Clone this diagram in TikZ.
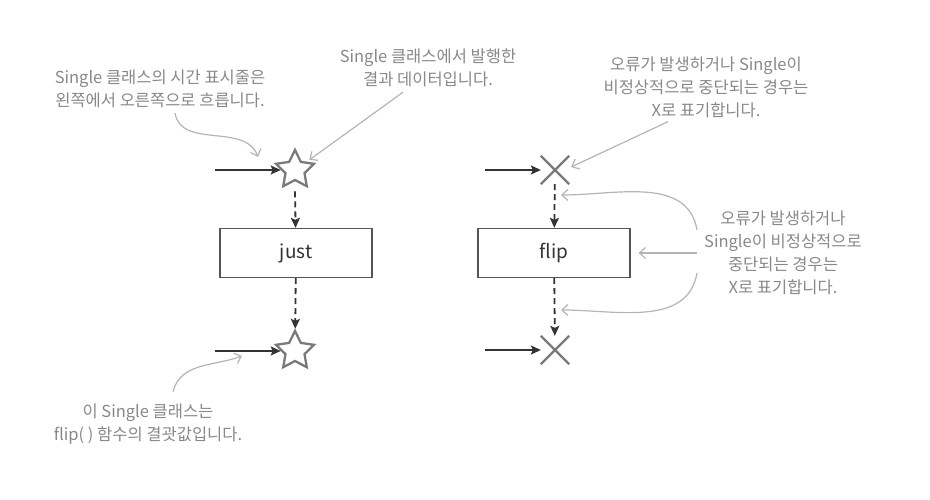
\documentclass[tikz,border=0pt]{standalone}
\usepackage{fontspec}
\setmainfont{Noto Sans CJK KR}
\usetikzlibrary{arrows.meta}
\usetikzlibrary{shapes.geometric, shapes.misc}
\usetikzlibrary{positioning}

\definecolor{darkline}{HTML}{333333}
\definecolor{boxgray}{HTML}{555555}
\definecolor{itemgray}{HTML}{7A7A7A}
\definecolor{notegray}{HTML}{888888}
\definecolor{pointgray}{HTML}{B4B4B4}

\begin{document}
\begin{tikzpicture}[x=1pt, y=-1pt,
    flow/.style={-{Stealth[length=10pt,width=9pt,inset=2pt]}, line width=1.8pt, draw=darkline},
    emit/.style={flow, dash pattern=on 6pt off 4pt},
    note/.style={align=center, text=notegray, font=\fontsize{16.5}{23}\selectfont, inner sep=1pt},
    pointer/.style={-{Straight Barb[length=6pt,width=11pt]}, line width=1.2pt, draw=pointgray},
    item/.style={star, star points=5, star point ratio=2, draw=itemgray, line width=2.3pt, minimum size=40pt, inner sep=0pt},
    fail/.style={cross out, draw=itemgray, line width=2.3pt, minimum size=26pt, inner sep=0pt},
    op/.style={draw=boxgray, line width=1.3pt, minimum width=152pt, minimum height=49pt, font=\fontsize{19}{22}\selectfont, text=darkline}]
    \useasboundingbox (0,0) rectangle (930,500);

    % just
    \coordinate (in1) at (215,170);
    \node[item] (star1) at (295,170) {};
    \node[op] (just) at (296,253) {just};
    \node[item] (star2) at (295,351) {};
    \coordinate (in2) at (215,351);
    \draw[flow] (in1) -- (star1);
    \draw[emit] ([yshift=-10pt]star1.south) -- (just);
    \draw[emit] (just) -- (star2);
    \draw[flow] (in2) -- (star2);

    % flip
    \coordinate (in3) at (485,170);
    \node[fail] (fail1) at (555,170) {};
    \node[op] (flip) at (554,253) {flip};
    \node[fail] (fail2) at (555,350) {};
    \coordinate (in4) at (485,350);
    \draw[flow] (in3) -- (fail1);
    \draw[emit] (fail1) -- (flip);
    \draw[emit] (flip) -- (fail2);
    \draw[flow] (in4) -- (fail2);

    % notes
    \node[note] (notetime) at (160,89) {Single 클래스의 시간 표시줄은\\왼쪽에서 오른쪽으로 흐릅니다.};
    \node[note] (notedata) at (428,68) {Single 클래스에서 발행한\\결과 데이터입니다.};
    \node[note] (noteerrtop) at (706,87) {오류가 발생하거나 Single이\\비정상적으로 중단되는 경우는\\X로 표기합니다.};
    \node[note] (noteerrside) at (783,253) {오류가 발생하거나\\Single이 비정상적으로\\중단되는 경우는\\X로 표기합니다.};
    \node[note] (noteflip) at (148,424) {이 Single 클래스는\\flip( ) 함수의 결괏값입니다.};

    \coordinate (timemark) at (258,157);
    \coordinate (resultmark) at (242,356);
    \coordinate (gapin) at (561,195);
    \coordinate (gapout) at (561,310);

    \draw[pointer] ([xshift=15pt,yshift=-4pt]notetime.south) to[out=-80, in=110] (timemark);
    \draw[pointer, shorten >=3pt] ([xshift=-25pt,yshift=-4pt]notedata.south) -- (star1.35);
    \draw[pointer] ([xshift=-38pt,yshift=-3pt]noteerrtop.south) -- ([xshift=2pt,yshift=3pt]fail1.east);
    \draw[pointer] ([xshift=-6pt,yshift=23pt]noteerrside.west) to[out=100, in=0] (gapin);
    \draw[pointer] ([xshift=-6pt]noteerrside.west) -- ([xshift=8pt]flip.east);
    \draw[pointer] ([xshift=-6pt,yshift=-20pt]noteerrside.west) to[out=-100, in=0] (gapout);
    \draw[pointer] ([xshift=25pt,yshift=11pt]noteflip.north) to[out=75, in=-160] (resultmark);
\end{tikzpicture}
\end{document}
